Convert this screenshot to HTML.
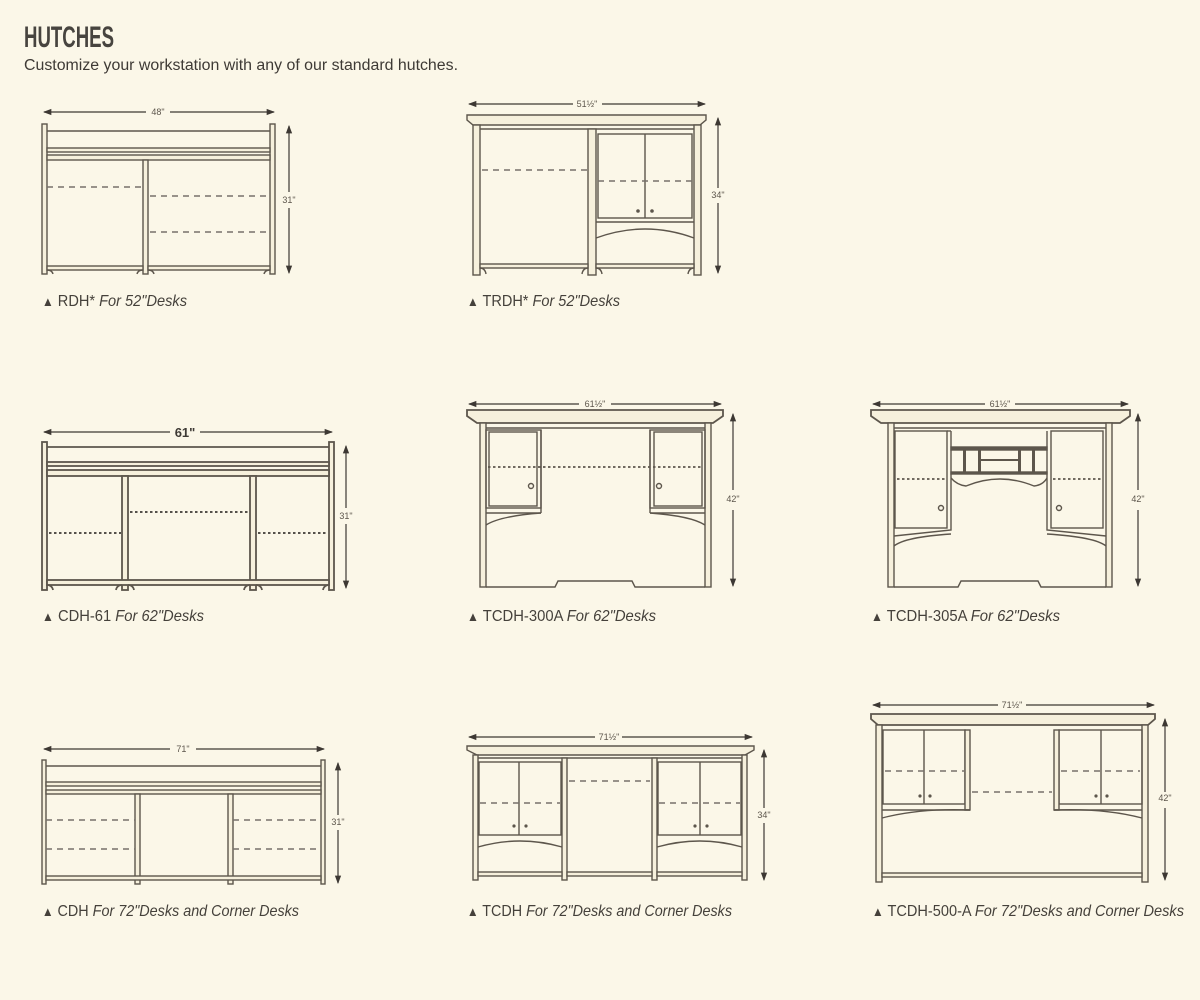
<!DOCTYPE html>
<html><head><meta charset="utf-8"><style>
html,body{margin:0;padding:0;background:#fbf7e8;}
svg{display:block}
.b{fill:#f6f0dc;stroke:#5d564c;stroke-width:1.4}
.l{fill:none;stroke:#5d564c;stroke-width:1.4}
.d{fill:none;stroke:#77706a;stroke-width:1.6;stroke-dasharray:6 5}
.dt{fill:none;stroke:#77706a;stroke-width:1.8;stroke-dasharray:2.5 2.5}
.dim{stroke:#3d3833;stroke-width:1.2;fill:none}
.dl{font-family:"Liberation Sans Narrow","Liberation Sans",sans-serif;font-size:9px;fill:#5d564c}
.cap{font-family:"Liberation Sans Narrow","Liberation Sans",sans-serif;font-size:16px;fill:#45413b}
.k{fill:#5d564c}
</style></head><body>
<svg width="1200" height="1000" viewBox="0 0 1200 1000" xmlns="http://www.w3.org/2000/svg">
<defs>
<marker id="a" viewBox="0 0 8 8" refX="7" refY="4" markerWidth="7" markerHeight="7" orient="auto-start-reverse"><path d="M0,1 L8,4 L0,7z" fill="#3d3833"/></marker>
</defs>
<rect width="1200" height="1000" fill="#fbf7e8"/>
<text x="24" y="47" font-family="'Liberation Sans Narrow','Liberation Sans',sans-serif" font-weight="bold" font-size="30" fill="#47443f" textLength="90" lengthAdjust="spacingAndGlyphs">HUTCHES</text>
<text x="24" y="70" font-family="'Liberation Sans Narrow','Liberation Sans',sans-serif" font-size="15.5" fill="#3e3a35" textLength="434" lengthAdjust="spacingAndGlyphs">Customize your workstation with any of our standard hutches.</text>

<!-- RDH -->
<g>
<line class="dim" x1="44" y1="112" x2="146" y2="112" marker-start="url(#a)"/><line class="dim" x1="170" y1="112" x2="274" y2="112" marker-end="url(#a)"/>
<text class="dl" x="158" y="115" text-anchor="middle">48"</text>
<line class="dim" x1="289" y1="126" x2="289" y2="192" marker-start="url(#a)"/><line class="dim" x1="289" y1="208" x2="289" y2="273" marker-end="url(#a)"/>
<text class="dl" x="289" y="203" text-anchor="middle">31"</text>
<rect class="b" x="42" y="124" width="5" height="150"/><rect class="b" x="270" y="124" width="5" height="150"/>
<line class="l" x1="47" y1="131" x2="270" y2="131"/>
<rect class="b" x="47" y="148" width="223" height="4"/><rect class="b" x="47" y="155" width="223" height="5"/>
<rect class="b" x="143" y="160" width="5" height="114"/>
<rect class="b" x="47" y="266" width="96" height="4"/><rect class="b" x="148" y="266" width="122" height="4"/>
<path class="l" d="M47,270 q5,0 6,4 M143,270 q-5,0 -6,4 M148,270 q5,0 6,4 M270,270 q-5,0 -6,4"/>
<line class="d" x1="47" y1="187" x2="143" y2="187"/><line class="d" x1="150" y1="196" x2="270" y2="196"/><line class="d" x1="150" y1="232" x2="270" y2="232"/>
<text class="cap" x="42" y="306" textLength="145" lengthAdjust="spacingAndGlyphs"><tspan font-size="13">▲</tspan> RDH* <tspan font-style="italic">For 52"Desks</tspan></text>
</g>

<!-- TRDH -->
<g>
<line class="dim" x1="469" y1="104" x2="573" y2="104" marker-start="url(#a)"/><line class="dim" x1="602" y1="104" x2="705" y2="104" marker-end="url(#a)"/>
<text class="dl" x="587" y="107" text-anchor="middle">51½"</text>
<line class="dim" x1="718" y1="118" x2="718" y2="188" marker-start="url(#a)"/><line class="dim" x1="718" y1="203" x2="718" y2="273" marker-end="url(#a)"/>
<text class="dl" x="718" y="198" text-anchor="middle">34"</text>
<path class="b" d="M467,115 H706 V120 L700,125 H473 L467,120Z"/>
<line class="l" x1="475" y1="129" x2="699" y2="129"/>
<rect class="b" x="473" y="125" width="7" height="150"/><rect class="b" x="694" y="125" width="7" height="150"/>
<rect class="b" x="588" y="129" width="8" height="146"/>
<rect class="b" x="480" y="264" width="108" height="4"/><rect class="b" x="596" y="264" width="98" height="4"/>
<path class="l" d="M480,268 q5,0 6,6 M588,268 q-5,0 -6,6 M596,268 q5,0 6,6 M694,268 q-5,0 -6,6"/>
<line class="d" x1="482" y1="170" x2="588" y2="170"/>
<rect class="l" x="598" y="134" width="94" height="84"/><line class="l" x1="645" y1="134" x2="645" y2="218"/>
<line class="d" x1="598" y1="181" x2="692" y2="181"/>
<circle class="k" cx="638" cy="211" r="1.8"/><circle class="k" cx="652" cy="211" r="1.8"/>
<line class="l" x1="596" y1="222" x2="694" y2="222"/>
<path class="l" d="M596,238 Q645,220 694,238"/>
<text class="cap" x="467" y="306" textLength="153" lengthAdjust="spacingAndGlyphs"><tspan font-size="13">▲</tspan> TRDH* <tspan font-style="italic">For 52"Desks</tspan></text>
</g>

<!-- CDH-61 -->
<g>
<line class="dim" x1="44" y1="432" x2="170" y2="432" marker-start="url(#a)"/><line class="dim" x1="200" y1="432" x2="332" y2="432" marker-end="url(#a)"/>
<text x="185" y="437" text-anchor="middle" font-family="'Liberation Sans Narrow','Liberation Sans',sans-serif" font-size="13" font-weight="bold" fill="#3e3a35">61"</text>
<line class="dim" x1="346" y1="446" x2="346" y2="508" marker-start="url(#a)"/><line class="dim" x1="346" y1="524" x2="346" y2="588" marker-end="url(#a)"/>
<text class="dl" x="346" y="519" text-anchor="middle" font-size="10">31"</text>
<rect class="b" x="42" y="442" width="5" height="148" style="stroke-width:1.8"/><rect class="b" x="329" y="442" width="5" height="148" style="stroke-width:1.8"/>
<line class="l" x1="47" y1="447" x2="329" y2="447" style="stroke-width:1.8"/>
<rect class="b" x="47" y="462" width="282" height="4" style="stroke-width:1.8"/><rect class="b" x="47" y="470" width="282" height="6" style="stroke-width:1.8"/>
<rect class="b" x="122" y="476" width="6" height="114" style="stroke-width:1.8"/><rect class="b" x="250" y="476" width="6" height="114" style="stroke-width:1.8"/>
<rect class="b" x="47" y="580" width="282" height="5" style="stroke-width:1.8"/>
<path class="l" d="M47,585 q5,0 6,5 M122,585 q-5,0 -6,5 M128,585 q5,0 6,5 M250,585 q-5,0 -6,5 M256,585 q5,0 6,5 M329,585 q-5,0 -6,5" style="stroke-width:1.8"/>
<line class="dt" x1="49" y1="533" x2="121" y2="533" style="stroke:#3d3833"/><line class="dt" x1="130" y1="512" x2="249" y2="512" style="stroke:#3d3833"/><line class="dt" x1="258" y1="533" x2="328" y2="533" style="stroke:#3d3833"/>
<text class="cap" x="42" y="621" textLength="162" lengthAdjust="spacingAndGlyphs"><tspan font-size="13">▲</tspan> CDH-61 <tspan font-style="italic">For 62"Desks</tspan></text>
</g>

<!-- TCDH-300A -->
<g>
<line class="dim" x1="469" y1="404" x2="579" y2="404" marker-start="url(#a)"/><line class="dim" x1="611" y1="404" x2="721" y2="404" marker-end="url(#a)"/>
<text class="dl" x="595" y="407" text-anchor="middle">61½"</text>
<line class="dim" x1="733" y1="414" x2="733" y2="490" marker-start="url(#a)"/><line class="dim" x1="733" y1="510" x2="733" y2="586" marker-end="url(#a)"/>
<text class="dl" x="733" y="502" text-anchor="middle">42"</text>
<path class="b" d="M467,410 H723 V416 L713,423 H477 L467,416Z" style="stroke-width:1.8"/>
<rect class="b" x="480" y="423" width="6" height="164"/><rect class="b" x="705" y="423" width="6" height="164"/>
<line class="l" x1="486" y1="428" x2="705" y2="428"/>
<rect class="l" x="486" y="430" width="55" height="78"/><rect class="l" x="489" y="432" width="48" height="74"/>
<rect class="l" x="650" y="430" width="55" height="78"/><rect class="l" x="654" y="432" width="48" height="74"/>
<line class="l" x1="541" y1="430" x2="541" y2="513"/><line class="l" x1="650" y1="430" x2="650" y2="513"/>
<line class="l" x1="486" y1="513" x2="541" y2="513"/><line class="l" x1="650" y1="513" x2="705" y2="513"/>
<path class="l" d="M486,525 Q500,516 541,513 M705,525 Q691,516 650,513"/>
<line class="dt" x1="488" y1="467" x2="703" y2="467" style="stroke:#5d564c"/>
<circle class="l" cx="531" cy="486" r="2.5"/><circle class="l" cx="659" cy="486" r="2.5"/>
<path class="l" d="M486,587 H555 L558,581 H632 L635,587 H705"/>
<text class="cap" x="467" y="621" textLength="189" lengthAdjust="spacingAndGlyphs"><tspan font-size="13">▲</tspan> TCDH-300A <tspan font-style="italic">For 62"Desks</tspan></text>
</g>

<!-- TCDH-305A -->
<g>
<line class="dim" x1="873" y1="404" x2="985" y2="404" marker-start="url(#a)"/><line class="dim" x1="1015" y1="404" x2="1128" y2="404" marker-end="url(#a)"/>
<text class="dl" x="1000" y="407" text-anchor="middle">61½"</text>
<line class="dim" x1="1138" y1="414" x2="1138" y2="490" marker-start="url(#a)"/><line class="dim" x1="1138" y1="510" x2="1138" y2="586" marker-end="url(#a)"/>
<text class="dl" x="1138" y="502" text-anchor="middle">42"</text>
<path class="b" d="M871,410 H1130 V416 L1120,423 H881 L871,416Z" style="stroke-width:1.8"/>
<rect class="b" x="888" y="423" width="6" height="164"/><rect class="b" x="1106" y="423" width="6" height="164"/>
<line class="l" x1="894" y1="428" x2="1106" y2="428"/>
<rect class="l" x="895" y="431" width="52" height="97"/><rect class="l" x="1051" y="431" width="52" height="97"/>
<line class="l" x1="951" y1="431" x2="951" y2="487"/><line class="l" x1="1047" y1="431" x2="1047" y2="487"/>
<rect class="l" x="951" y="447" width="96" height="3" style="fill:#5d564c"/>
<rect class="l" x="951" y="472" width="96" height="2" style="fill:#5d564c"/>
<rect x="963" y="450" width="3" height="22" fill="#5d564c"/><rect x="978" y="450" width="3" height="22" fill="#5d564c"/>
<rect x="1018" y="450" width="3" height="22" fill="#5d564c"/><rect x="1032" y="450" width="3" height="22" fill="#5d564c"/>
<rect x="981" y="459" width="37" height="2" fill="#5d564c"/>
<path class="l" d="M951,478 Q957,485 966,486 Q1000,472 1034,486 Q1043,485 1047,478"/>
<line class="l" x1="947" y1="431" x2="951" y2="431"/>
<line class="dt" x1="897" y1="479" x2="945" y2="479" style="stroke:#5d564c"/><line class="dt" x1="1053" y1="479" x2="1101" y2="479" style="stroke:#5d564c"/>
<circle class="l" cx="941" cy="508" r="2.5"/><circle class="l" cx="1059" cy="508" r="2.5"/>
<path class="l" d="M894,536 L951,530 V487 M1106,536 L1047,530 V487"/>
<path class="l" d="M894,546 Q905,537 951,534 M1106,546 Q1095,537 1047,534"/>
<path class="l" d="M894,587 H958 L961,581 H1038 L1041,587 H1106"/>
<text class="cap" x="871" y="621" textLength="189" lengthAdjust="spacingAndGlyphs"><tspan font-size="13">▲</tspan> TCDH-305A <tspan font-style="italic">For 62"Desks</tspan></text>
</g>

<!-- CDH -->
<g>
<line class="dim" x1="44" y1="749" x2="170" y2="749" marker-start="url(#a)"/><line class="dim" x1="196" y1="749" x2="324" y2="749" marker-end="url(#a)"/>
<text class="dl" x="183" y="752" text-anchor="middle">71"</text>
<line class="dim" x1="338" y1="763" x2="338" y2="815" marker-start="url(#a)"/><line class="dim" x1="338" y1="830" x2="338" y2="883" marker-end="url(#a)"/>
<text class="dl" x="338" y="825" text-anchor="middle">31"</text>
<rect class="b" x="42" y="760" width="4" height="124"/><rect class="b" x="321" y="760" width="4" height="124"/>
<line class="l" x1="46" y1="766" x2="321" y2="766"/>
<rect class="b" x="46" y="782" width="275" height="4"/><rect class="b" x="46" y="790" width="275" height="4"/>
<rect class="b" x="135" y="794" width="5" height="90"/><rect class="b" x="228" y="794" width="5" height="90"/>
<rect class="b" x="46" y="876" width="275" height="4"/>
<line class="d" x1="46" y1="820" x2="135" y2="820"/><line class="d" x1="46" y1="849" x2="135" y2="849"/>
<line class="d" x1="233" y1="820" x2="321" y2="820"/><line class="d" x1="233" y1="849" x2="321" y2="849"/>
<text class="cap" x="42" y="916" textLength="257" lengthAdjust="spacingAndGlyphs"><tspan font-size="13">▲</tspan> CDH <tspan font-style="italic">For 72"Desks and Corner Desks</tspan></text>
</g>

<!-- TCDH -->
<g>
<line class="dim" x1="469" y1="737" x2="595" y2="737" marker-start="url(#a)"/><line class="dim" x1="622" y1="737" x2="752" y2="737" marker-end="url(#a)"/>
<text class="dl" x="609" y="740" text-anchor="middle">71½"</text>
<line class="dim" x1="764" y1="750" x2="764" y2="808" marker-start="url(#a)"/><line class="dim" x1="764" y1="823" x2="764" y2="880" marker-end="url(#a)"/>
<text class="dl" x="764" y="818" text-anchor="middle">34"</text>
<path class="b" d="M467,746 H754 V750 L745,755 H477 L467,750Z"/>
<line class="l" x1="476" y1="758" x2="746" y2="758"/>
<rect class="b" x="473" y="755" width="5" height="125"/><rect class="b" x="742" y="755" width="5" height="125"/>
<rect class="b" x="562" y="758" width="5" height="122"/><rect class="b" x="652" y="758" width="5" height="122"/>
<rect class="l" x="479" y="762" width="82" height="73"/><line class="l" x1="519" y1="762" x2="519" y2="835"/>
<rect class="l" x="658" y="762" width="83" height="73"/><line class="l" x1="700" y1="762" x2="700" y2="835"/>
<line class="d" x1="480" y1="803" x2="560" y2="803"/><line class="d" x1="659" y1="803" x2="740" y2="803"/>
<line class="d" x1="569" y1="781" x2="650" y2="781"/>
<circle class="k" cx="514" cy="826" r="1.6"/><circle class="k" cx="526" cy="826" r="1.6"/>
<circle class="k" cx="695" cy="826" r="1.6"/><circle class="k" cx="707" cy="826" r="1.6"/>
<path class="l" d="M478,847 Q520,835 562,847 M657,847 Q700,835 742,847"/>
<rect class="b" x="478" y="872" width="84" height="4"/><rect class="b" x="567" y="872" width="85" height="4"/><rect class="b" x="657" y="872" width="85" height="4"/>
<text class="cap" x="467" y="916" textLength="265" lengthAdjust="spacingAndGlyphs"><tspan font-size="13">▲</tspan> TCDH <tspan font-style="italic">For 72"Desks and Corner Desks</tspan></text>
</g>

<!-- TCDH-500-A -->
<g>
<line class="dim" x1="873" y1="705" x2="998" y2="705" marker-start="url(#a)"/><line class="dim" x1="1026" y1="705" x2="1154" y2="705" marker-end="url(#a)"/>
<text class="dl" x="1012" y="708" text-anchor="middle">71½"</text>
<line class="dim" x1="1165" y1="719" x2="1165" y2="792" marker-start="url(#a)"/><line class="dim" x1="1165" y1="808" x2="1165" y2="880" marker-end="url(#a)"/>
<text class="dl" x="1165" y="801" text-anchor="middle">42"</text>
<path class="b" d="M871,714 H1155 V719 L1148,725 H878 L871,719Z" style="stroke-width:1.8"/>
<rect class="b" x="876" y="725" width="6" height="157"/><rect class="b" x="1142" y="725" width="6" height="157"/>
<rect class="l" x="883" y="730" width="82" height="74"/><line class="l" x1="924" y1="730" x2="924" y2="804"/>
<rect class="l" x="1059" y="730" width="83" height="74"/><line class="l" x1="1101" y1="730" x2="1101" y2="804"/>
<rect class="b" x="965" y="730" width="5" height="80"/><rect class="b" x="1054" y="730" width="5" height="80"/>
<line class="d" x1="885" y1="771" x2="964" y2="771"/><line class="d" x1="1061" y1="771" x2="1140" y2="771"/>
<line class="d" x1="972" y1="792" x2="1052" y2="792"/>
<circle class="k" cx="920" cy="796" r="1.6"/><circle class="k" cx="930" cy="796" r="1.6"/>
<circle class="k" cx="1096" cy="796" r="1.6"/><circle class="k" cx="1107" cy="796" r="1.6"/>
<line class="l" x1="882" y1="810" x2="970" y2="810"/><line class="l" x1="1054" y1="810" x2="1142" y2="810"/>
<path class="l" d="M882,818 Q920,808 970,810 M1142,818 Q1104,808 1054,810"/>
<rect class="b" x="882" y="873" width="260" height="4"/>
<text class="cap" x="872" y="916" textLength="312" lengthAdjust="spacingAndGlyphs"><tspan font-size="13">▲</tspan> TCDH-500-A <tspan font-style="italic">For 72"Desks and Corner Desks</tspan></text>
</g>
</svg>
</body></html>
